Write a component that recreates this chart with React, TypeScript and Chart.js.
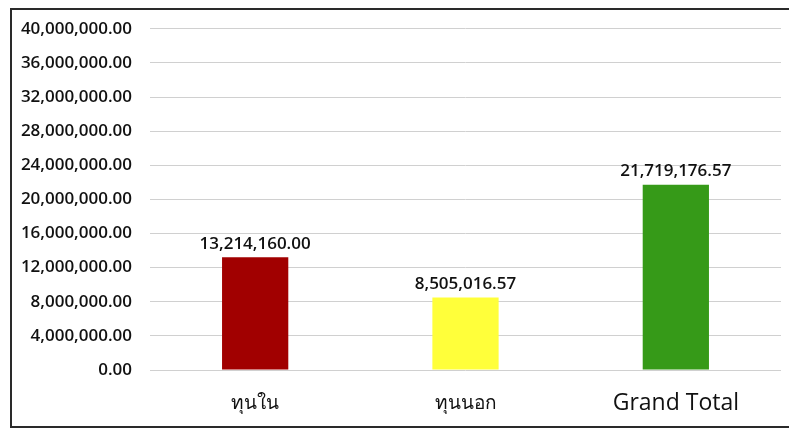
import React, { useEffect, useRef } from "react";
import { Chart, registerables } from "chart.js";

Chart.register(...registerables);

const categories = ["ทุนใน", "ทุนนอก", "Grand Total"];
const values = [13214160.0, 8505016.57, 21719176.57];
const barColors = ["#a10000", "#ffff3a", "#369a18"];
const yMin = 0;
const yMax = 40000000;
const yStep = 4000000;

const fmt = (v: number) =>
  v.toLocaleString("en-US", { minimumFractionDigits: 2, maximumFractionDigits: 2 });

const FONT = "'Open Sans', 'Noto Sans', sans-serif";

const dataLabelPlugin = {
  id: "dataLabels",
  afterDatasetsDraw(chart: any) {
    const ctx = chart.ctx;
    const meta = chart.getDatasetMeta(0);
    ctx.save();
    ctx.font = `600 17px ${FONT}`;
    ctx.fillStyle = "#111";
    ctx.textAlign = "center";
    ctx.textBaseline = "bottom";
    meta.data.forEach((el: any, i: number) => {
      ctx.fillText(fmt(values[i]), el.x, el.y - 5);
    });
    ctx.restore();
  },
};

export default function App() {
  const ref = useRef<HTMLCanvasElement | null>(null);
  useEffect(() => {
    if (!ref.current) return;
    const chart = new Chart(ref.current, {
      type: "bar",
      data: {
        labels: categories,
        datasets: [
          {
            data: values,
            backgroundColor: barColors,
            barPercentage: 0.63,
            categoryPercentage: 0.5,
          },
        ],
      },
      options: {
        animation: false,
        responsive: false,
        maintainAspectRatio: false,
        layout: { padding: { top: 0, right: 10, bottom: 0, left: 0 } },
        plugins: { legend: { display: false }, tooltip: { enabled: false } },
        scales: {
          x: {
            grid: { display: false, drawTicks: false },
            border: { display: false },
            afterFit: (s: any) => {
              s.height = 56;
            },
            ticks: {
              color: "#111",
              padding: 20,
              font: (c: any) =>
                c.index === 2
                  ? { family: FONT, size: 23, weight: "normal", lineHeight: 1.2 }
                  : { family: FONT, size: 19, weight: "normal", lineHeight: 27.6 / 19 },
            },
          },
          y: {
            min: yMin,
            max: yMax,
            grid: { color: "#d0d0d0", drawTicks: false, lineWidth: 1 },
            border: { display: false },
            afterFit: (s: any) => {
              s.width = 138;
            },
            ticks: {
              stepSize: yStep,
              color: "#111",
              padding: 18,
              font: { family: FONT, size: 17, weight: "600", lineHeight: 0.1 },
              callback: (v: any) => fmt(Number(v)),
            },
          },
        },
      },
      plugins: [dataLabelPlugin],
    });
    return () => chart.destroy();
  }, []);
  return (
    <div
      style={{
        width: 783,
        height: 420,
        marginLeft: 2,
        border: "2px solid #2a2a2a",
        boxSizing: "border-box",
        background: "#fff",
      }}
    >
      <canvas ref={ref} width={779} height={416} style={{ display: "block" }} />
    </div>
  );
}
